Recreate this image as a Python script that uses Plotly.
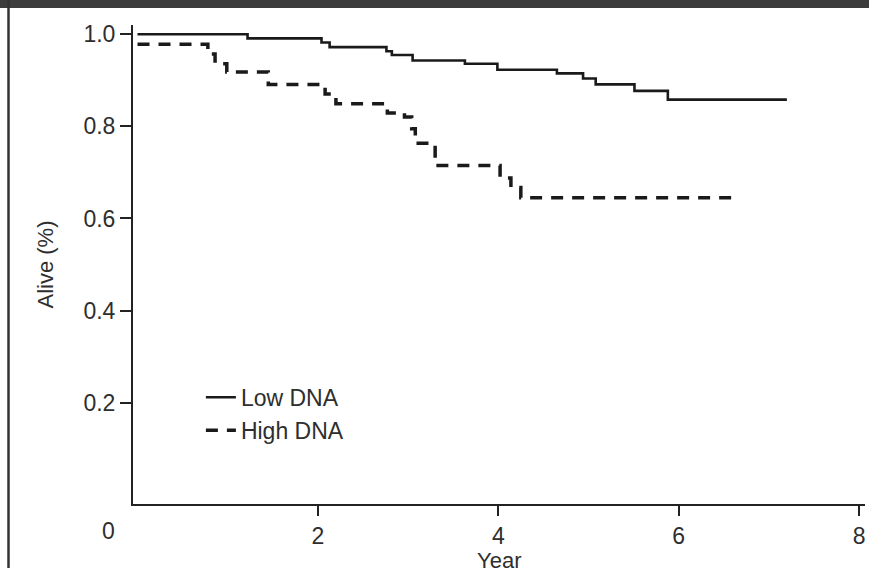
import plotly.graph_objects as go

# Kaplan-Meier survival data
low_years = [0, 1.22, 2.04, 2.13, 2.76, 2.82, 3.05, 3.63, 3.99, 4.65, 4.94, 5.08, 5.51, 5.88, 7.20]
low_alive = [1.0, 0.991, 0.982, 0.972, 0.963, 0.955, 0.943, 0.936, 0.923, 0.915, 0.904, 0.891, 0.877, 0.858, 0.858]

high_years = [0, 0.78, 0.86, 0.99, 1.45, 2.08, 2.20, 2.77, 2.96, 3.04, 3.08, 3.30, 4.02, 4.14, 4.25, 6.61]
high_alive = [0.978, 0.957, 0.936, 0.918, 0.891, 0.870, 0.849, 0.829, 0.820, 0.795, 0.763, 0.715, 0.688, 0.667, 0.645, 0.645]

x_ticks = [2, 4, 6, 8]
x_tick_labels = ["2", "4", "6", "8"]
y_ticks = [0.2, 0.4, 0.6, 0.8, 1.0]
y_tick_labels = ["0.2", "0.4", "0.6", "0.8", "1.0"]

FONT = "Liberation Sans, Arial, sans-serif"
TXT = "#2e2e2e"
PW, PH = 732, 479  # plot area size in px

fig = go.Figure()
fig.add_trace(go.Scatter(
    x=low_years, y=low_alive, mode="lines", name="Low DNA",
    line=dict(color="#1a1a1a", width=2.6, shape="hv"), legendgroup="a"))
fig.add_trace(go.Scatter(
    x=high_years, y=high_alive, mode="lines", name="High DNA",
    line=dict(color="#1a1a1a", width=3.5, shape="hv", dash="12px,9px"), legendgroup="b"))

fig.update_layout(
    width=869, height=568,
    margin=dict(l=133, r=4, t=25, b=64, autoexpand=False),
    paper_bgcolor="white", plot_bgcolor="white",
    font=dict(family=FONT, size=23, color=TXT),
    showlegend=True,
    legend=dict(x=0.075 + 13 / PW, y=0.255 + 6 / PH, xanchor="left", yanchor="top",
                bgcolor="rgba(0,0,0,0)", font=dict(size=23, color=TXT),
                tracegroupgap=0),
    xaxis=dict(range=[-0.05, 8.066], tickvals=x_ticks, ticktext=x_tick_labels,
               showline=True, linecolor="#222", linewidth=2,
               ticks="outside", ticklen=10, tickwidth=2, tickcolor="#222",
               tickfont=dict(size=23),
               showgrid=False, zeroline=False, automargin=False),
    yaxis=dict(range=[-0.02, 1.02], tickvals=y_ticks, ticktext=y_tick_labels,
               showline=True, linecolor="#222", linewidth=2,
               ticks="outside", ticklen=11, tickwidth=2, tickcolor="#222",
               tickfont=dict(size=23),
               showgrid=False, zeroline=False, automargin=False,
               title=dict(text="Alive (%)", standoff=24, font=dict(size=22))),
    shapes=[
        dict(type="rect", xref="paper", yref="paper", x0=-1, x1=2,
             y0=1 + 17 / PH, y1=1.2, fillcolor="#3c3c3c", line_width=0, layer="above"),
        dict(type="line", xref="paper", yref="paper", x0=-124.5 / PW, x1=-124.5 / PW,
             y0=-0.3, y1=1.2, line=dict(color="#333", width=2.5)),
    ],
    annotations=[
        dict(text="0", xref="paper", yref="paper", x=-25 / PW, y=-27 / PH,
             xanchor="center", yanchor="middle", showarrow=False,
             font=dict(size=23, color=TXT)),
        dict(text="Year", xref="paper", yref="paper", x=0.5, y=-56 / PH,
             xanchor="center", yanchor="middle", showarrow=False,
             font=dict(size=22, color=TXT)),
    ],
)

fig.write_html("out.html", config={"displayModeBar": False},
               post_script="document.body.style.margin='0';document.body.style.overflow='hidden';")
